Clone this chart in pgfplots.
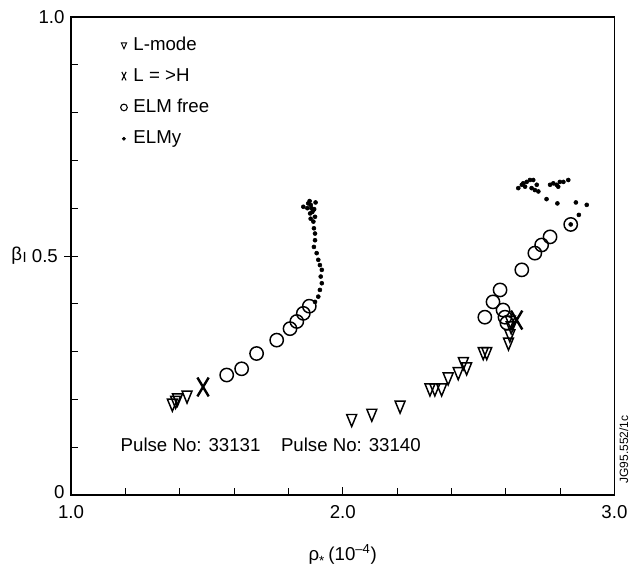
\documentclass[border=0pt]{standalone}
\usepackage{fontspec}
\setmainfont{Liberation Sans}
\usepackage{pgfplots}
\pgfplotsset{compat=1.18}
\pgfplotstableread{
x y
1.373 0.192
1.385 0.198
1.392 0.203
1.427 0.209
2.033 0.160
2.107 0.171
2.211 0.188
2.321 0.224
2.339 0.224
2.364 0.224
2.388 0.247
2.425 0.258
2.444 0.279
2.456 0.268
2.517 0.300
2.530 0.300
2.610 0.320
2.615 0.337
2.620 0.354
2.617 0.366
}\lmode
\pgfplotstableread{
x y
1.486 0.226
2.640 0.366
}\ltoh
\pgfplotstableread{
x y
1.573 0.251
1.628 0.264
1.683 0.296
1.757 0.324
1.806 0.348
1.831 0.363
1.855 0.380
1.877 0.395
2.523 0.372
2.553 0.404
2.579 0.429
2.590 0.387
2.597 0.372
2.604 0.360
2.659 0.471
2.707 0.506
2.732 0.523
2.763 0.540
2.839 0.566
}\elmfree
\pgfplotstableread{
x y
1.855 0.603
1.873 0.610
1.882 0.607
1.892 0.596
1.880 0.589
1.898 0.582
1.892 0.572
1.894 0.558
1.898 0.547
1.898 0.533
1.894 0.519
1.904 0.506
1.910 0.492
1.916 0.481
1.923 0.471
1.919 0.457
1.923 0.443
1.916 0.429
1.910 0.415
1.898 0.404
1.870 0.600
1.878 0.615
1.885 0.600
1.888 0.592
1.882 0.578
1.895 0.598
1.900 0.612
2.839 0.566
2.869 0.586
2.898 0.607
2.858 0.612
2.790 0.610
2.750 0.619
2.646 0.642
2.659 0.649
2.664 0.652
2.677 0.655
2.689 0.659
2.701 0.659
2.671 0.645
2.695 0.642
2.707 0.638
2.720 0.635
2.714 0.649
2.763 0.649
2.775 0.652
2.787 0.649
2.799 0.655
2.812 0.655
2.830 0.659
2.793 0.645
}\elmy
\begin{document}
\fontsize{14}{17}\selectfont
\begin{tikzpicture}
\useasboundingbox (-53.25pt,-54pt) rectangle (426.75pt,371.25pt);
\begin{axis}[
  at={(0,0)}, anchor=south west, scale only axis, clip=false,
  width=407.6pt, height=358.5pt,
  xmin=1, xmax=3, ymin=0, ymax=1,
  xtick={1,2,3}, xticklabels={1.0,2.0,3.0},
  minor xtick={1.2,1.4,1.6,1.8,2.2,2.4,2.6,2.8},
  ytick={0,1}, yticklabels={\raisebox{5pt}{0},1.0},
  extra y ticks={0.5}, extra y tick labels={0.5},
  extra y tick style={tick align=center, major tick length=10pt},
  minor ytick={0.1,0.2,0.3,0.4,0.6,0.7,0.8,0.9},
  tick align=inside, tick pos=left,
  major tick length=6pt, minor tick length=5pt,
  tick style={black, line width=0.6pt},
  axis line style={line width=1pt},
  tick label style={font=\fontsize{14}{17}\selectfont},
  xticklabel style={yshift=-3pt},
  /pgf/number format/assume math mode=true,
  legend cell align=left,
  legend style={draw=none, fill=none, at={(axis cs:1.18,0.965)}, anchor=north west,
    font=\fontsize{14}{17}\selectfont, row sep=7.5pt, inner sep=0pt},
]
\addplot[only marks, mark=triangle, mark size=4.3pt, mark options={yscale=-1.4, line width=1.1pt, fill=white},
  legend image code/.code={\path[draw=none,fill=none] (0cm,0cm) rectangle (0.28cm,0.01cm);\draw[mark=triangle, mark size=2.3pt, mark options={yscale=-1.3, line width=0.7pt}] plot coordinates {(0.1cm,0cm)};}]
  table[x=x,y=y]{\lmode};
\addlegendentry{L-mode}
\addplot[only marks, mark=x, mark size=10pt, mark options={xscale=0.6, line width=1.8pt},
  legend image code/.code={\path[draw=none,fill=none] (0cm,0cm) rectangle (0.28cm,0.01cm);\draw[mark=x, mark size=4.5pt, mark options={xscale=0.5, line width=0.8pt}] plot coordinates {(0.1cm,0cm)};}]
  table[x=x,y=y]{\ltoh};
\addlegendentry{L = >H}
\addplot[only marks, mark=o, mark size=5pt, mark options={line width=1.1pt},
  legend image code/.code={\path[draw=none,fill=none] (0cm,0cm) rectangle (0.28cm,0.01cm);\draw[mark=o, mark size=2.5pt, mark options={line width=0.8pt}] plot coordinates {(0.1cm,0cm)};}]
  table[x=x,y=y]{\elmfree};
\addlegendentry{ELM free}
\addplot[only marks, mark=*, mark size=1.5pt, black,
  legend image code/.code={\path[draw=none,fill=none] (0cm,0cm) rectangle (0.28cm,0.01cm);\fill (0.1cm,0cm) circle (1.2pt);}]
  table[x=x,y=y]{\elmy};
\addlegendentry{ELMy}
\node[anchor=center] at (axis cs:1.44,0.105) {Pulse No: 33131};
\node[anchor=center] at (axis cs:2.03,0.105) {Pulse No: 33140};
\node[rotate=90, anchor=center, font=\fontsize{9}{10}\selectfont] at ([xshift=7pt]rel axis cs:1,0.095) {JG95.552/1c};
\node[anchor=center] at ([xshift=-39pt]rel axis cs:0,0.5) {β\kern0.3pt\raisebox{-1pt}{\fontsize{11}{11}\selectfont I}};
\node[anchor=center] at ([yshift=-45pt]rel axis cs:0.5,0) {ρ\raisebox{-4pt}{\fontsize{10}{10}\selectfont *}\kern3pt(10\textsuperscript{–4})};
\end{axis}
\end{tikzpicture}
\end{document}
